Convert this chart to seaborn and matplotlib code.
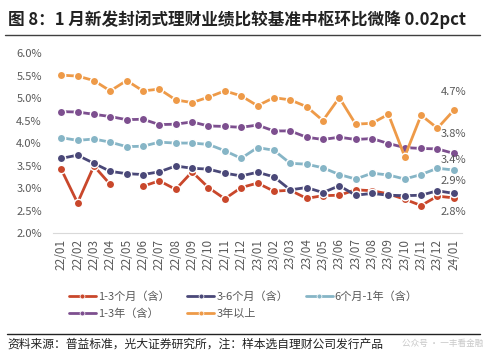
import numpy as np
import pandas as pd
import matplotlib
matplotlib.use("Agg")
import matplotlib.pyplot as plt
from matplotlib.lines import Line2D
import seaborn as sns

# data
months = ['22/01', '22/02', '22/03', '22/04', '22/05', '22/06', '22/07', '22/08', '22/09',
          '22/10', '22/11', '22/12', '23/01', '23/02', '23/03', '23/04', '23/05', '23/06',
          '23/07', '23/08', '23/09', '23/10', '23/11', '23/12', '24/01']
m1_3 = [3.42, 2.67, 3.49, 3.08, np.nan, 3.04, 3.16, 2.97, 3.36, 3.01, 2.76, 3.01, 3.11,
        2.93, 2.95, 2.77, 2.83, 2.84, 2.96, 2.94, 2.87, 2.75, 2.61, 2.82, 2.78]
m3_6 = [3.66, 3.73, 3.55, 3.37, 3.32, 3.30, 3.36, 3.49, 3.44, 3.42, 3.33, 3.27, 3.35,
        3.25, 2.96, 3.01, 2.90, 3.05, 2.84, 2.88, 2.84, 2.83, 2.84, 2.94, 2.88]
m6_12 = [4.12, 4.06, 4.09, 4.02, 3.92, 3.93, 4.02, 4.00, 4.00, 3.97, 3.83, 3.66, 3.90,
         3.84, 3.55, 3.53, 3.45, 3.30, 3.20, 3.33, 3.29, 3.20, 3.30, 3.44, 3.40]
y1_3 = [4.70, 4.69, 4.64, 4.59, 4.52, 4.53, 4.41, 4.42, 4.47, 4.38, 4.37, 4.35, 4.40,
        4.27, 4.27, 4.13, 4.08, 4.13, 4.08, 4.10, 3.99, 3.90, 3.88, 3.87, 3.77]
y3p = [5.51, 5.49, 5.39, 5.16, 5.39, 5.16, 5.20, 4.96, 4.90, 5.02, 5.16, 5.05, 4.83,
       5.01, 4.96, 4.81, 4.50, 5.01, 4.42, 4.44, 4.64, 3.70, 4.62, 4.33, 4.73]

names = ['1-3个月（含）', '3-6个月（含）', '6个月-1年（含）', '1-3年（含）', '3年以上']
colors = ['#C9472B', '#4A4878', '#86B5C6', '#7D4F8F', '#EE9A48']
series = [m1_3, m3_6, m6_12, y1_3, y3p]
end_labels = ['2.8%', '2.9%', '3.4%', '3.8%', '4.7%']
label_dy = [-10, 9, 7, 14, 13]  # points

rows = []
for name, vals in zip(names, series):
    seg = 0
    for i, v in enumerate(vals):
        if np.isnan(v):
            seg += 1
            continue
        rows.append({'x': i, 'value': v, 'series': name, 'seg': seg})
df = pd.DataFrame(rows)

sns.set_style('white')
plt.rcParams['font.family'] = ['Noto Sans CJK SC', 'DejaVu Sans']

fig = plt.figure(figsize=(5, 3.59), dpi=100)
ax = fig.add_axes([0.106, 0.351, 0.818, 0.501])

sns.lineplot(data=df, x='x', y='value', hue='series', units='seg', estimator=None,
             hue_order=names, palette=colors, marker='o', markersize=6,
             markeredgecolor='white', markeredgewidth=1, linewidth=2,
             legend=False, ax=ax)

for vals, lab, dy in zip(series, end_labels, label_dy):
    ax.annotate(lab, (24, vals[-1]), xytext=(0, dy), textcoords='offset points',
                ha='center', va='center', fontsize=8, color='#595959')

ax.set_xlim(-0.5, 24.5)
ax.set_ylim(2.0, 6.0)
ax.set_yticks(np.arange(2.0, 6.01, 0.5))
ax.set_yticklabels([f'{v:.1f}%' for v in np.arange(2.0, 6.01, 0.5)])
ax.set_xticks(np.arange(-0.5, 25, 1))
ax.set_xticklabels([])
ax.set_xticks(np.arange(25), minor=True)
ax.set_xticklabels(months, minor=True, rotation=90)
ax.tick_params(axis='x', which='major', length=3, color='#D9D9D9', direction='out')
ax.tick_params(axis='x', which='minor', length=0, labelsize=8.5, labelcolor='#595959', pad=4)
ax.tick_params(axis='y', length=0, labelsize=8, labelcolor='#595959', pad=8)
ax.set_xlabel('')
ax.set_ylabel('')
for s in ['top', 'right', 'left']:
    ax.spines[s].set_visible(False)
ax.spines['bottom'].set_color('#D9D9D9')

handles = [Line2D([], [], color=c, lw=2, marker='o', markersize=3.5,
                  markeredgecolor='white', markeredgewidth=0.5) for c in colors]
order = [0, 3, 1, 4, 2]
fig.legend([handles[i] for i in order], [names[i] for i in order], ncol=3,
           loc='upper left', bbox_to_anchor=(0.118, 1 - 281 / 359), frameon=False,
           fontsize=8, handlelength=2.4, handletextpad=0.2, columnspacing=1.6,
           labelspacing=0.6, labelcolor='#595959')

fig.text(0.016, 1 - 20 / 359, '图 8：1 月新发封闭式理财业绩比较基准中枢环比微降 0.02pct',
         fontsize=12, fontweight='bold', color='#222222', va='center')
fig.add_artist(Line2D([0.01, 0.96], [1 - 35 / 359] * 2, color='#404040', lw=1))
fig.add_artist(Line2D([0.014, 0.96], [1 - 334 / 359] * 2, color='#222222', lw=1))
fig.text(0.966, 1 - 343 / 359, '公众号 · 一丰看金融', fontsize=6.2, color='#C8C8C8',
         ha='right', va='center', zorder=0)
fig.text(0.014, 1 - 344 / 359, '资料来源：普益标准，光大证券研究所，注：样本选自理财公司发行产品',
         fontsize=8.5, color='#222222', va='center')

fig.savefig('out.png', dpi=100)
